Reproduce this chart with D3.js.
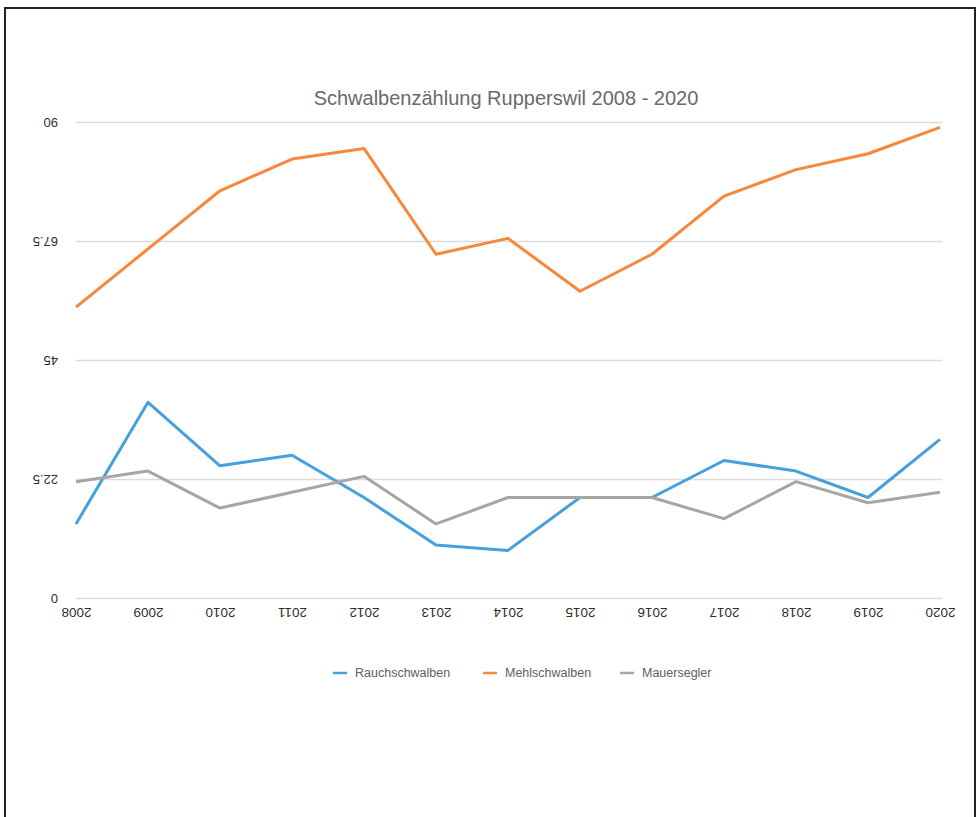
<!DOCTYPE html>
<html>
<head>
<meta charset="utf-8">
<script src="https://cdn.jsdelivr.net/npm/d3@7"></script>
<style>
  body { margin: 0; background: #fff; }
  svg { display: block; font-family: "Liberation Sans", Arial, sans-serif; }
</style>
</head>
<body>
<div id="chart"></div>
<script>
// Daten
const years = [2008, 2009, 2010, 2011, 2012, 2013, 2014, 2015, 2016, 2017, 2018, 2019, 2020];
const rauchschwalben = [14, 37, 25, 27, 19, 10, 9, 19, 19, 26, 24, 19, 30];
const mehlschwalben = [55, 66, 77, 83, 85, 65, 68, 58, 65, 76, 81, 84, 89];
const mauersegler = [22, 24, 17, 20, 23, 14, 19, 19, 19, 15, 22, 18, 20];
const yTicks = [0, 22.5, 45, 67.5, 90];
const seriesNames = ["Rauchschwalben", "Mehlschwalben", "Mauersegler"];
const seriesColors = ["#45a0dd", "#f7883b", "#a6a6a6"];

const width = 977;
const height = 817;
const margin = { top: 122, right: 37, bottom: 219, left: 76 };

const svg = d3.select("div#chart").append("svg")
  .attr("width", width)
  .attr("height", height);

// Rahmen (ohne Unterkante)
svg.append("path")
  .attr("d", `M5,${height} V8 H975 V${height}`)
  .attr("fill", "none")
  .attr("stroke", "#222")
  .attr("stroke-width", 2);

// Skalen
const x = d3.scalePoint().domain(years).range([margin.left, width - margin.right]);
const y = d3.scaleLinear().domain([0, 90]).range([height - margin.bottom, margin.top]);

// Y-Achse mit Gitterlinien
const yAxisGroup = svg.append("g")
  .attr("transform", `translate(${margin.left},0)`)
  .call(d3.axisLeft(y).tickValues(yTicks).tickSize(-(width - margin.left - margin.right + 2)).tickPadding(18)
    .tickFormat(d => String(d)));
yAxisGroup.select(".domain").remove();
yAxisGroup.selectAll(".tick line").attr("stroke", "#dcdcdc").attr("stroke-width", 1.6);
// Beschriftung auf dem Kopf (wie im Original)
yAxisGroup.selectAll(".tick text")
  .attr("x", -18)
  .attr("dy", null)
  .attr("text-anchor", "start")
  .attr("dominant-baseline", "central")
  .attr("transform", "rotate(180,-18,0)")
  .attr("fill", "#2e2e2e")
  .attr("font-size", 13);

// X-Achse
const xAxisGroup = svg.append("g")
  .attr("transform", `translate(0,${height - margin.bottom})`)
  .call(d3.axisBottom(x).tickSize(0).tickPadding(0));
xAxisGroup.select(".domain").remove();
xAxisGroup.selectAll(".tick text")
  .attr("y", 14)
  .attr("dy", null)
  .attr("dominant-baseline", "central")
  .attr("transform", "rotate(180,0,14)")
  .attr("fill", "#2e2e2e")
  .attr("font-size", 13.5);

// Linien
const allSeries = [rauchschwalben, mehlschwalben, mauersegler];
const line = d3.line().x((d, i) => x(years[i])).y(d => y(d));
svg.append("g").selectAll("path")
  .data(allSeries)
  .join("path")
  .attr("d", d => line(d))
  .attr("fill", "none")
  .attr("stroke", (d, i) => seriesColors[i])
  .attr("stroke-width", 3)
  .attr("stroke-linejoin", "round");

// Titel
svg.append("text")
  .attr("x", 506)
  .attr("y", 105)
  .attr("text-anchor", "middle")
  .attr("fill", "#6a6a6a")
  .attr("font-size", 20)
  .text("Schwalbenzählung Rupperswil 2008 - 2020");

// Legende
const legendX = [333, 483, 620];
const legend = svg.append("g").selectAll("g")
  .data(seriesNames)
  .join("g")
  .attr("transform", (d, i) => `translate(${legendX[i]},673)`);
legend.append("line")
  .attr("x1", 0).attr("x2", 14)
  .attr("stroke", (d, i) => seriesColors[i])
  .attr("stroke-width", 2.5);
legend.append("text")
  .attr("x", 22)
  .attr("dominant-baseline", "central")
  .attr("fill", "#5e5e5e")
  .attr("font-size", 12.5)
  .text(d => d);
</script>
</body>
</html>
